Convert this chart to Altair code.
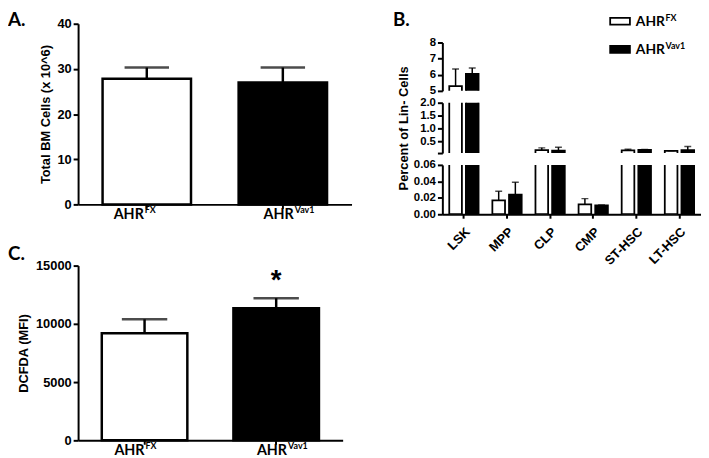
import altair as alt
import pandas as pd

# ---------------- data ----------------
genos = ["FX", "Vav1"]
geno_fill = ["white", "black"]
label_base = "AHR"

# Panel A: total BM cells (x 10^6)
a_mean = [27.8, 27.0]
a_hi = [30.3, 30.3]
a_ticks = [0, 10, 20, 30, 40]

# Panel C: DCFDA (MFI)
c_mean = [9200, 11350]
c_hi = [10390, 12200]
c_sig = ["", "*"]
c_ticks = [0, 5000, 10000, 15000]

# Panel B: percent of Lin- cells
b_cells = ["LSK", "MPP", "CLP", "CMP", "ST-HSC", "LT-HSC"]
b_fx_mean = [5.3, 0.017, 0.17, 0.012, 0.16, 0.14]
b_fx_hi = [6.35, 0.028, 0.26, 0.019, 0.21, 0.15]
b_vav_mean = [6.05, 0.024, 0.15, 0.0108, 0.18, 0.17]
b_vav_hi = [6.42, 0.039, 0.28, 0.0112, 0.20, 0.31]
b_top_ticks = [5, 6, 7, 8]
b_mid_ticks = [0.06, 0.5, 1.0, 1.5, 2.0]
b_bot_ticks = [0, 0.02, 0.04, 0.06]

AX = "Liberation Sans"
LB = "Lato"

fill_scale = alt.Scale(domain=genos, range=geno_fill)


def letter_layer(letter, x, y):
    return alt.Chart(pd.DataFrame({"t": [letter]})).mark_text(
        font=LB, fontWeight="bold", fontSize=19, align="left",
        baseline="alphabetic", color="black"
    ).encode(x=alt.value(x), y=alt.value(y), text="t:N")


def simple_panel(mean, hi, ticks, title, width, height, letter, lx, ly,
                 tpad, sig, label_dx, cap):
    df = pd.DataFrame({"geno": genos, "mean": mean, "hi": hi, "sig": sig})
    x = alt.X("geno:N", sort=genos,
              scale=alt.Scale(domain=genos, paddingInner=0.35, paddingOuter=0.18),
              axis=alt.Axis(labels=False, title=None, tickSize=4))
    ys = alt.Scale(domain=[ticks[0], ticks[-1]], nice=False)
    yax = alt.Axis(values=ticks, title=title, format="d", titlePadding=tpad)
    base = alt.Chart(df)
    stem = base.mark_rule(color="black", strokeWidth=2.5).encode(
        x=x, y=alt.Y("mean:Q", scale=ys, axis=yax), y2="hi:Q")
    bars = base.mark_bar(stroke="black", strokeWidth=2.5).encode(
        x=x, y=alt.Y("mean:Q", scale=ys, axis=yax),
        fill=alt.Fill("geno:N", scale=fill_scale, legend=None))
    caps = base.mark_tick(color="black", thickness=2.5, size=cap).encode(
        x=x, y=alt.Y("hi:Q", scale=ys, axis=yax))
    stars = base.mark_text(font=AX, fontWeight="bold", fontSize=28,
                           baseline="alphabetic", dy=-9, color="black").encode(
        x=x, y=alt.Y("hi:Q", scale=ys, axis=yax), text="sig:N")
    layers = [stem, bars, caps, stars]
    for g, dx in zip(genos, label_dx):
        sub = base.transform_filter(alt.datum.geno == g)
        layers.append(sub.mark_text(font=LB, fontWeight="bold", fontSize=14.5,
                                    align="right", baseline="alphabetic",
                                    dx=dx, color="black").encode(
            x=x, y=alt.value(height + 15), text=alt.value(label_base)))
        layers.append(sub.mark_text(font=LB, fontWeight="bold", fontSize=9,
                                    align="left", baseline="alphabetic",
                                    dx=dx + 1, dy=-6, color="black").encode(
            x=x, y=alt.value(height + 15), text="geno:N"))
    layers.append(letter_layer(letter, lx, ly))
    return alt.layer(*layers).properties(width=width, height=height)


panel_a = simple_panel(a_mean, a_hi, a_ticks, "Total BM Cells (x 10^6)",
                       277, 183, "A.", -71, 2, 4, ["", ""], (-3, 11), 45)
panel_c = simple_panel(c_mean, c_hi, c_ticks, "DCFDA (MFI)",
                       268, 177, "C.", -71, -6, 5, c_sig, (0, 11), 46)

# ---------------- panel B (broken axis) ----------------
bdf = pd.DataFrame({
    "cell": b_cells * 2,
    "geno": [genos[0]] * len(b_cells) + [genos[1]] * len(b_cells),
    "mean": b_fx_mean + b_vav_mean,
    "hi": b_fx_hi + b_vav_hi,
})


def b_segment(dom, ticks, height, show_x, ytitle=None, label_expr=None,
              fmt=".1f", extra=()):
    if show_x:
        xaxis = alt.Axis(labelAngle=315, title=None, labelPadding=7,
                         labelFontSize=13, tickSize=4)
    else:
        xaxis = None
    x = alt.X("cell:N", sort=b_cells,
              scale=alt.Scale(domain=b_cells, paddingInner=0.32, paddingOuter=0.16),
              axis=xaxis)
    xo = alt.XOffset("geno:N", sort=genos,
                     scale=alt.Scale(domain=genos, paddingInner=0.24))
    ys = alt.Scale(domain=dom, nice=False, zero=False)
    axkw = dict(values=ticks, format=fmt, labelFontSize=11.5, titlePadding=9,
                title=ytitle)
    if label_expr:
        axkw["labelExpr"] = label_expr
    yax = alt.Axis(**axkw)
    base = alt.Chart(bdf)
    stem = base.transform_filter(alt.datum.hi > dom[0]).mark_rule(
        color="black", strokeWidth=1.5, clip=True).encode(
        x=x, xOffset=xo, y=alt.Y("mean:Q", scale=ys, axis=yax), y2="hi:Q")
    bars = base.transform_filter(alt.datum.mean > dom[0]).mark_bar(
        stroke="black", strokeWidth=1.8, clip=True).encode(
        x=x, xOffset=xo, y=alt.Y("mean:Q", scale=ys, axis=yax),
        y2=alt.datum(0),
        fill=alt.Fill("geno:N", scale=fill_scale, legend=None))
    caps = base.transform_filter(alt.datum.hi > dom[0]).mark_tick(
        color="black", thickness=1.5, size=7, clip=True).encode(
        x=x, xOffset=xo, y=alt.Y("hi:Q", scale=ys, axis=yax))
    return alt.layer(stem, bars, caps, *extra).properties(width=262, height=height)


legend_layers = []
leg = pd.DataFrame({"geno": genos})
for i, g in enumerate(genos):
    ry = -25 + i * 28.5
    sub = alt.Chart(leg).transform_filter(alt.datum.geno == g)
    legend_layers.append(sub.mark_rect(stroke="black", strokeWidth=1.8).encode(
        x=alt.value(170), x2=alt.value(190), y=alt.value(ry), y2=alt.value(ry + 7),
        fill=alt.Fill("geno:N", scale=fill_scale, legend=None)))
    legend_layers.append(sub.mark_text(font=LB, fontWeight="bold", fontSize=14,
                                       align="left", baseline="alphabetic",
                                       color="black").encode(
        x=alt.value(196), y=alt.value(ry + 8), text=alt.value(label_base)))
    legend_layers.append(sub.mark_text(font=LB, fontWeight="bold", fontSize=9,
                                       align="left", baseline="alphabetic",
                                       color="black").encode(
        x=alt.value(226), y=alt.value(ry + 3), text="geno:N"))
legend_layers.append(letter_layer("B.", -50, -17))

spacer = alt.Chart(pd.DataFrame({"s": [0]})).mark_rect(opacity=0).encode(
    x=alt.value(0), x2=alt.value(1), y=alt.value(0), y2=alt.value(1)
).properties(width=262, height=7)

b_top = b_segment([5, 8], b_top_ticks, 49, False, fmt="d", extra=legend_layers)
b_mid = b_segment([0.06, 2.0], b_mid_ticks, 51, False,
                  ytitle="Percent of Lin- Cells",
                  label_expr="datum.value < 0.1 ? '' : format(datum.value, '.1f')")
b_bot = b_segment([0, 0.06], b_bot_ticks, 50, True, fmt=".2f")

left = alt.vconcat(panel_a, panel_c, spacing=62, bounds="flush")
right = alt.vconcat(spacer, b_top, b_mid, b_bot, spacing=12, bounds="flush")

chart = alt.hconcat(left, right, spacing=42).properties(
    padding=0
).configure_axis(
    domainColor="black", domainWidth=2, tickColor="black", tickWidth=2,
    tickSize=5, labelColor="black", labelFont=AX, labelFontWeight="bold",
    labelFontSize=13, titleFont=AX, titleFontWeight="bold", titleFontSize=13,
    titleColor="black", grid=False, labelPadding=2
).configure_view(stroke=None)

chart.save("out.html", embed_options={"renderer": "svg", "actions": False})
